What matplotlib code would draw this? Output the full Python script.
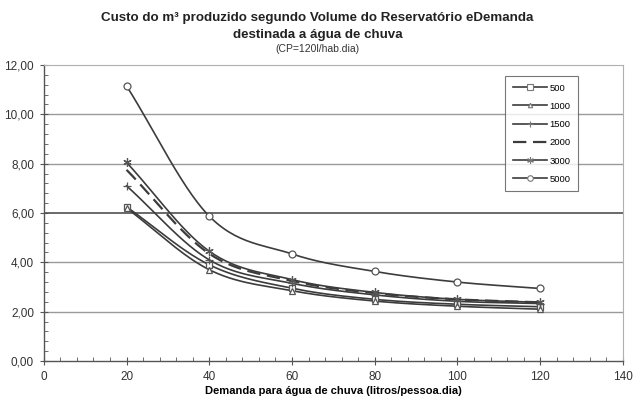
import numpy as np
import matplotlib.pyplot as plt
from matplotlib.lines import Line2D
from matplotlib.ticker import MultipleLocator, FuncFormatter

plt.rcParams['font.family'] = ['Liberation Sans', 'DejaVu Sans']

# Data
demanda = [20, 40, 60, 80, 100, 120]
volumes = ['500', '1000', '1500', '2000', '3000', '5000']
v500 = [6.25, 3.90, 2.95, 2.50, 2.30, 2.20]
v1000 = [6.20, 3.70, 2.85, 2.43, 2.22, 2.10]
v1500 = [7.10, 4.10, 3.15, 2.68, 2.42, 2.33]
v2000 = [7.75, 4.35, 3.25, 2.75, 2.50, 2.38]
v3000 = [8.05, 4.45, 3.30, 2.78, 2.50, 2.38]
v5000 = [11.15, 5.87, 4.34, 3.63, 3.20, 2.94]
series = [v500, v1000, v1500, v2000, v3000, v5000]

# styles
markers = ['s', '^', '+', None, (6, 2, 0), 'o']
msizes = [5, 4, 6, 0, 6, 5]
lstyles = ['-', '-', '-', (0, (6, 3)), '-', '-']
lwidths = [1.2, 1.2, 1.2, 1.6, 1.2, 1.2]
col = '#3c3c3c'


def smooth(x, y, n=30):
    # Catmull-Rom curve through the points (like Excel smoothed lines)
    x = np.asarray(x, float)
    y = np.asarray(y, float)
    px = np.concatenate([[2 * x[0] - x[1]], x, [2 * x[-1] - x[-2]]])
    py = np.concatenate([[2 * y[0] - y[1]], y, [2 * y[-1] - y[-2]]])
    xs, ys = [], []
    t = np.linspace(0, 1, n)
    for i in range(1, len(px) - 2):
        p0, p1, p2, p3 = [np.array([px[j], py[j]]) for j in range(i - 1, i + 3)]
        for tt in t:
            pt = 0.5 * ((2 * p1) + (-p0 + p2) * tt + (2 * p0 - 5 * p1 + 4 * p2 - p3) * tt ** 2
                        + (-p0 + 3 * p1 - 3 * p2 + p3) * tt ** 3)
            xs.append(pt[0])
            ys.append(pt[1])
    return xs, ys


fig = plt.figure(figsize=(6.35, 4.0), dpi=100)
ax = fig.add_axes([0.069, 0.0975, 0.912, 0.74])

handles = []
for vals, lab, mk, ms, ls, lw in zip(series, volumes, markers, msizes, lstyles, lwidths):
    sx, sy = smooth(demanda, vals)
    ax.plot(sx, sy, color=col, lw=lw, ls=ls, zorder=3)
    if mk is not None:
        ax.plot(demanda, vals, ls='none', marker=mk, ms=ms, mfc='white', mec='#555555',
                mew=0.9, zorder=4)
    handles.append(Line2D([], [], color=col, lw=lw, ls=ls, marker=mk if mk else '',
                          ms=ms * 0.8, mfc='white', mec='#777777', mew=0.8, label=lab))

ax.set_xlim(0, 140)
ax.set_ylim(0, 12)
ax.xaxis.set_major_locator(MultipleLocator(20))
ax.xaxis.set_minor_locator(MultipleLocator(4))
ax.yaxis.set_major_locator(MultipleLocator(2))
ax.yaxis.set_minor_locator(MultipleLocator(0.4))
ax.yaxis.set_major_formatter(FuncFormatter(lambda v, p: f'{v:.2f}'.replace('.', ',')))

for y in [2, 4, 8, 10]:
    ax.axhline(y, color='#9a9a9a', lw=1.0, zorder=1)
ax.axhline(6, color='#505050', lw=1.2, zorder=1)

for s in ['top', 'right']:
    ax.spines[s].set_color('#b0b0b0')
for s in ['left', 'bottom']:
    ax.spines[s].set_color('#555555')
    ax.spines[s].set_linewidth(1.0)

ax.tick_params(axis='x', which='major', direction='inout', length=6, color='#555555',
               labelsize=8.5, labelcolor='#333333', pad=4)
ax.tick_params(axis='y', which='major', direction='inout', length=6, color='#555555',
               labelsize=8.5, labelcolor='#333333', pad=4)
ax.tick_params(which='minor', direction='in', length=3, color='#555555')

ax.set_xlabel('Demanda para água de chuva (litros/pessoa.dia)', fontsize=8,
              fontweight='bold', labelpad=2)

leg = ax.legend(handles=handles, loc='upper left', bbox_to_anchor=(0.797, 0.963),
                fontsize=6.8, frameon=True, fancybox=False, edgecolor='#555555',
                handlelength=3.6, labelspacing=0.98, borderpad=0.8, handletextpad=0.3,
                borderaxespad=0)
leg.get_frame().set_linewidth(0.8)

fig.text(0.5, 0.955, 'Custo do m³ produzido segundo Volume do Reservatório eDemanda',
         ha='center', va='center', fontsize=9.6, fontweight='bold', color='#222222')
fig.text(0.5, 0.912, 'destinada a água de chuva', ha='center', va='center',
         fontsize=9.6, fontweight='bold', color='#222222')
fig.text(0.5, 0.877, '(CP=120l/hab.dia)', ha='center', va='center', fontsize=7.5,
         color='#333333')

fig.savefig('out.png', dpi=100)
